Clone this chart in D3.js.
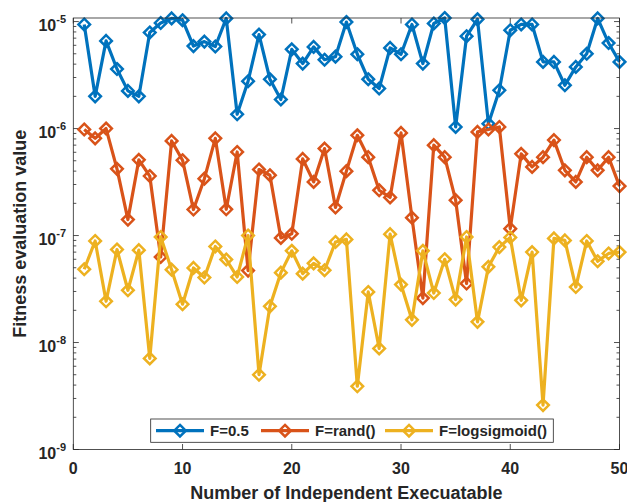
<!DOCTYPE html>
<html>
<head>
<meta charset="utf-8">
<script src="https://cdn.jsdelivr.net/npm/d3@7"></script>
<style>
  body { margin: 0; background: #fff; }
  text { font-family: "Liberation Sans", Arial, Helvetica, sans-serif; font-weight: bold; fill: #262626; }
</style>
</head>
<body>
<div id="chart"></div>
<script>

var runs = d3.range(1, 51);

var fHalf = [9.4e-6, 2.0e-6, 6.6e-6, 3.6e-6, 2.25e-6, 2.0e-6, 7.9e-6, 9.7e-6, 1.07e-5, 1.03e-5,
             5.9e-6, 6.5e-6, 5.85e-6, 1.07e-5, 1.36e-6, 2.77e-6, 7.56e-6, 2.89e-6, 1.87e-6, 5.5e-6,
             4.05e-6, 5.8e-6, 4.4e-6, 4.7e-6, 9.9e-6, 4.95e-6, 2.89e-6, 2.37e-6, 5.67e-6, 4.95e-6,
             9.4e-6, 4.05e-6, 9.6e-6, 1.08e-5, 1.035e-6, 7.3e-6, 1.05e-5, 1.11e-6, 2.28e-6, 8.3e-6,
             9.4e-6, 9.4e-6, 4.2e-6, 4.2e-6, 2.54e-6, 3.77e-6, 5.0e-6, 1.07e-5, 6.3e-6, 4.2e-6];

var fRand = [9.8e-7, 8.1e-7, 1.0e-6, 4.2e-7, 1.41e-7, 5.1e-7, 3.6e-7, 6.3e-8, 7.66e-7, 5.06e-7,
             1.75e-7, 3.4e-7, 8.1e-7, 1.76e-7, 6.04e-7, 4.7e-8, 4.14e-7, 3.66e-7, 9.5e-8, 1.04e-7,
             5.2e-7, 3.17e-7, 6.5e-7, 1.83e-7, 4.0e-7, 8.65e-7, 5.4e-7, 2.65e-7, 2.27e-7, 9.1e-7,
             1.47e-7, 2.6e-8, 7.0e-7, 5.4e-7, 2.14e-7, 3.56e-8, 9.3e-7, 9.8e-7, 1.035e-6, 1.16e-7,
             5.8e-7, 4.38e-7, 5.4e-7, 7.8e-7, 4.07e-7, 3.17e-7, 5.4e-7, 4.07e-7, 5.4e-7, 2.9e-7];

var fLogsig = [4.84e-8, 8.9e-8, 2.43e-8, 7.4e-8, 3.08e-8, 7.3e-8, 7.1e-9, 9.7e-8, 4.8e-8, 2.28e-8,
               4.98e-8, 4.05e-8, 7.9e-8, 5.97e-8, 4.1e-8, 1.0e-7, 5.0e-9, 2.18e-8, 4.5e-8, 7.2e-8,
               4.4e-8, 5.5e-8, 4.74e-8, 8.7e-8, 9.2e-8, 3.9e-9, 2.97e-8, 8.8e-9, 1.03e-7, 3.48e-8,
               1.63e-8, 7.2e-8, 2.9e-8, 6.0e-8, 2.52e-8, 9.7e-8, 1.56e-8, 5.1e-8, 7.8e-8, 9.6e-8,
               2.48e-8, 7.0e-8, 2.6e-9, 9.4e-8, 9.0e-8, 3.3e-8, 8.9e-8, 5.75e-8, 6.8e-8, 7.0e-8];

var seriesNames = ["F=0.5", "F=rand()", "F=logsigmoid()"];
var xTicks = [0, 10, 20, 30, 40, 50];
var yTickExps = [-9, -8, -7, -6, -5];

var series = [
  { label: seriesNames[0], values: fHalf,   color: "#0072BD" },
  { label: seriesNames[1], values: fRand,   color: "#D95319" },
  { label: seriesNames[2], values: fLogsig, color: "#EDB120" }
];

var width = 627, height = 502;
var plotLeft = 73.3, plotRight = 619.5, plotTop = 18, plotBottom = 449.5;
var axisColor = "#262626";
var lineW = 3.2, markSize = 5.8, markW = 2.5;

var x = d3.scaleLinear().domain([0, 50]).range([plotLeft, plotRight]);
var y = d3.scaleLog().domain([1e-9, 1.08e-5]).range([plotBottom, plotTop]);

var svg = d3.select("#chart").append("svg")
    .attr("width", width)
    .attr("height", height);

// minor + major ticks of the log axis
var minor = [];
yTickExps.forEach(function(e) {
  for (var k = 2; k <= 9; k++) {
    var v = k * Math.pow(10, e);
    if (v <= y.domain()[1]) minor.push(v);
  }
});

var ticks = svg.append("g").attr("stroke", axisColor).attr("stroke-width", 0.8);

minor.forEach(function(v) {
  ticks.append("line").attr("x1", plotLeft).attr("x2", plotLeft + 3).attr("y1", y(v)).attr("y2", y(v));
  ticks.append("line").attr("x1", plotRight).attr("x2", plotRight - 3).attr("y1", y(v)).attr("y2", y(v));
});
yTickExps.forEach(function(e) {
  var v = Math.pow(10, e);
  ticks.append("line").attr("x1", plotLeft).attr("x2", plotLeft + 5.5).attr("y1", y(v)).attr("y2", y(v));
  ticks.append("line").attr("x1", plotRight).attr("x2", plotRight - 5.5).attr("y1", y(v)).attr("y2", y(v));
});
xTicks.forEach(function(t) {
  ticks.append("line").attr("x1", x(t)).attr("x2", x(t)).attr("y1", plotBottom).attr("y2", plotBottom - 5.5);
  ticks.append("line").attr("x1", x(t)).attr("x2", x(t)).attr("y1", plotTop).attr("y2", plotTop + 5.5);
});

// tick labels
svg.append("g").selectAll("text")
    .data(xTicks)
    .enter().append("text")
    .attr("x", function(d) { return x(d); })
    .attr("y", 474)
    .attr("text-anchor", "middle")
    .attr("font-size", 16)
    .text(function(d) { return d; });

var yLab = svg.append("g").selectAll("text")
    .data(yTickExps)
    .enter().append("text")
    .attr("x", 66)
    .attr("y", function(d) { return y(Math.pow(10, d)) + 9.5; })
    .attr("text-anchor", "end")
    .attr("font-size", 16);
yLab.append("tspan").text("10");
yLab.append("tspan")
    .attr("font-size", 11)
    .attr("dy", -8.5)
    .text(function(d) { return "-" + Math.abs(d); });

// lines and markers
var line = d3.line()
    .x(function(d, i) { return x(runs[i]); })
    .y(function(d) { return y(d); });

function diamond(s) {
  return "M0," + (-s) + "L" + s + ",0L0," + s + "L" + (-s) + ",0Z";
}

series.forEach(function(s) {
  var g = svg.append("g");
  g.append("path")
      .datum(s.values)
      .attr("d", line)
      .attr("fill", "none")
      .attr("stroke", s.color)
      .attr("stroke-width", lineW)
      .attr("stroke-linejoin", "round");
  g.selectAll(".m")
      .data(s.values)
      .enter().append("path")
      .attr("transform", function(d, i) { return "translate(" + x(runs[i]) + "," + y(d) + ")"; })
      .attr("d", diamond(markSize))
      .attr("fill", "none")
      .attr("stroke", s.color)
      .attr("stroke-width", markW);
});

// box
svg.append("rect")
    .attr("x", plotLeft).attr("y", plotTop)
    .attr("width", plotRight - plotLeft).attr("height", plotBottom - plotTop)
    .attr("fill", "none")
    .attr("stroke", axisColor)
    .attr("stroke-width", 0.8);

// axis labels
svg.append("text")
    .attr("x", (plotLeft + plotRight) / 2)
    .attr("y", 499)
    .attr("text-anchor", "middle")
    .attr("font-size", 18)
    .text("Number of Independent Execuatable");

svg.append("text")
    .attr("transform", "translate(26," + ((plotTop + plotBottom) / 2) + ") rotate(-90)")
    .attr("text-anchor", "middle")
    .attr("font-size", 18)
    .text("Fitness evaluation value");

// legend
var legendX = [156, 261, 385];
var legendY = 430.7;
var legend = svg.append("g");
legend.append("rect")
    .attr("x", 150.7).attr("y", 419)
    .attr("width", 553.3 - 150.7).attr("height", 23.3)
    .attr("fill", "#fff")
    .attr("stroke", axisColor)
    .attr("stroke-width", 0.8);

var item = legend.selectAll(".item")
    .data(series)
    .enter().append("g")
    .attr("transform", function(d, i) { return "translate(" + legendX[i] + "," + legendY + ")"; });
item.append("line")
    .attr("x1", 0).attr("x2", 48)
    .attr("stroke", function(d) { return d.color; })
    .attr("stroke-width", lineW);
item.append("path")
    .attr("transform", "translate(24,0)")
    .attr("d", diamond(markSize))
    .attr("fill", "none")
    .attr("stroke", function(d) { return d.color; })
    .attr("stroke-width", markW);
item.append("text")
    .attr("x", 54)
    .attr("y", 5.5)
    .attr("font-size", 15)
    .text(function(d) { return d.label; });

</script>
</body>
</html>
